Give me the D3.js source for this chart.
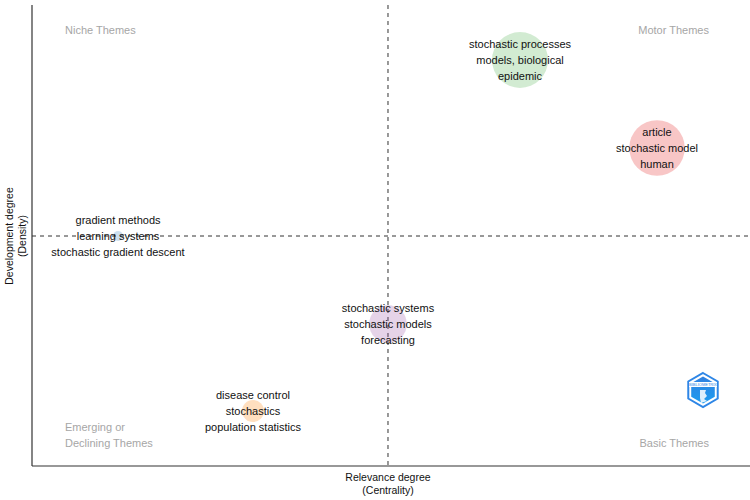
<!DOCTYPE html>
<html lang="en">
<head>
<meta charset="UTF-8">
<title>Thematic Map</title>
<style>
  body, html { margin: 0; padding: 0; background: #fff; }
  svg text { font-family: 'Liberation Sans', Arial, sans-serif; }
</style>
</head>
<body>
<div id="chart"></div>
<script src="https://d3js.org/d3.v7.min.js"></script>
<script>
  // Cluster data (centrality, density, frequency)
  const clusterLabels = [
    ["stochastic processes", "models, biological", "epidemic"],
    ["article", "stochastic model", "human"],
    ["gradient methods", "learning systems", "stochastic gradient descent"],
    ["stochastic systems", "stochastic models", "forecasting"],
    ["disease control", "stochastics", "population statistics"]
  ];
  const centrality = [67.97, 87.05, 11.98, 49.58, 30.78];
  const density = [88.07, 68.98, 49.89, 30.8, 11.93];
  const frequency = [310, 305, 10, 140, 48];
  const clusterColors = ["#4DAF4A", "#E41A1C", "#377EB8", "#984EA3", "#FF7F00"];

  const meanCentrality = 49.58;
  const meanDensity = 49.89;

  const width = 750, height = 500;
  const margin = {top: 5, right: 0, bottom: 34, left: 32};

  const svg = d3.select("#chart").append("svg")
      .attr("width", width)
      .attr("height", height);

  const x = d3.scaleLinear().domain([0, 100]).range([margin.left, width - margin.right]);
  const y = d3.scaleLinear().domain([0, 100]).range([height - margin.bottom, margin.top]);
  const r = d3.scaleSqrt().domain([0, 310]).range([0, 28]);

  // axis lines
  svg.append("line")
      .attr("x1", x(0)).attr("x2", x(0))
      .attr("y1", y(100)).attr("y2", y(0))
      .attr("stroke", "#333").attr("stroke-width", 1.2);
  svg.append("line")
      .attr("x1", x(0)).attr("x2", x(100))
      .attr("y1", y(0)).attr("y2", y(0))
      .attr("stroke", "#333").attr("stroke-width", 1.2);

  // mean lines
  svg.append("line")
      .attr("x1", x(meanCentrality)).attr("x2", x(meanCentrality))
      .attr("y1", y(100)).attr("y2", y(0))
      .attr("stroke", "#333").attr("stroke-dasharray", "4,4");
  svg.append("line")
      .attr("x1", x(0)).attr("x2", x(100))
      .attr("y1", y(meanDensity)).attr("y2", y(meanDensity))
      .attr("stroke", "#333").attr("stroke-dasharray", "4,4");

  // quadrant labels
  const quad = svg.append("g").attr("fill", "#a6a6a6").attr("font-size", 11);
  quad.append("text").attr("x", 65).attr("y", 34).text("Niche Themes");
  quad.append("text").attr("x", 709).attr("y", 34).attr("text-anchor", "end").text("Motor Themes");
  quad.append("text").attr("x", 65).attr("y", 431).text("Emerging or");
  quad.append("text").attr("x", 65).attr("y", 447).text("Declining Themes");
  quad.append("text").attr("x", 709).attr("y", 447).attr("text-anchor", "end").text("Basic Themes");

  // bubbles
  const idx = d3.range(centrality.length);
  svg.append("g").selectAll("circle")
      .data(idx)
      .enter().append("circle")
      .attr("cx", i => x(centrality[i]))
      .attr("cy", i => y(density[i]))
      .attr("r", i => r(frequency[i]))
      .attr("fill", i => clusterColors[i])
      .attr("fill-opacity", 0.25);

  // labels
  const lab = svg.append("g").attr("font-size", 11).attr("fill", "#111").attr("text-anchor", "middle");
  idx.forEach(i => {
    clusterLabels[i].forEach((t, k) => {
      lab.append("text")
          .attr("x", x(centrality[i]))
          .attr("y", y(density[i]) + (k - 1) * 16 + 4)
          .text(t);
    });
  });

  // axis titles
  const at = svg.append("g").attr("font-size", 10.5).attr("fill", "#111").attr("text-anchor", "middle");
  at.append("text").attr("x", x(meanCentrality)).attr("y", 481).text("Relevance degree");
  at.append("text").attr("x", x(meanCentrality)).attr("y", 494).text("(Centrality)");
  at.append("text").attr("transform", `translate(13,${y(meanDensity)}) rotate(-90)`).text("Development degree");
  at.append("text").attr("transform", `translate(26,${y(meanDensity)}) rotate(-90)`).text("(Density)");

  // logo
  const defs = svg.append("defs");
  const grad = defs.append("linearGradient").attr("id", "lg").attr("x1", 0).attr("y1", 0).attr("x2", 0).attr("y2", 1);
  grad.append("stop").attr("offset", "0%").attr("stop-color", "#2f7fe0");
  grad.append("stop").attr("offset", "100%").attr("stop-color", "#1e9df0");
  const logo = svg.append("g").attr("transform", "translate(703,390)");
  const hex = d3.range(6).map(k => {
    const a = Math.PI / 3 * k - Math.PI / 2;
    return [17 * Math.cos(a), 17 * Math.sin(a)];
  });
  logo.append("polygon").attr("points", hex.map(p => p.join(",")).join(" "))
      .attr("fill", "#fff").attr("stroke", "#2e86e6").attr("stroke-width", 2);
  const hexIn = hex.map(p => [p[0] * 0.8, p[1] * 0.8]);
  logo.append("polygon").attr("points", hexIn.map(p => p.join(",")).join(" "))
      .attr("fill", "url(#lg)");
  logo.append("rect").attr("x", -14).attr("y", -8).attr("width", 28).attr("height", 5).attr("fill", "#fff");
  logo.append("text").attr("x", 0).attr("y", -4).attr("text-anchor", "middle")
      .attr("font-size", 4).attr("fill", "#2e86e6").text("BIBLIOMETRIX");
  logo.append("path").attr("d", "M-3,0 L3,0 L2,3 L4,6 L1,9 L4,11 L-2,13 L-3,8 Z")
      .attr("fill", "#fff").attr("fill-opacity", 0.85);
</script>
</body>
</html>
